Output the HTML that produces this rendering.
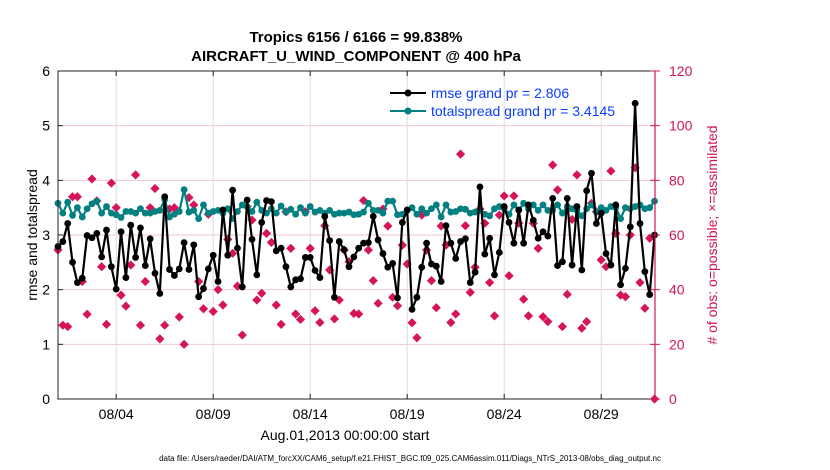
<!DOCTYPE html>
<html><head><meta charset="utf-8">
<style>
body{margin:0;background:#fff;}
svg{display:block;font-family:"Liberation Sans",Arial,sans-serif;}
</style></head>
<body>
<svg id="chart" width="830" height="470" viewBox="0 0 830 470" xmlns="http://www.w3.org/2000/svg">
<rect x="0" y="0" width="830" height="470" fill="#fff"/>
<text x="356" y="42" text-anchor="middle" font-size="15" font-weight="bold">Tropics 6156 / 6166 = 99.838%</text>
<text x="356" y="61" text-anchor="middle" font-size="15" font-weight="bold">AIRCRAFT_U_WIND_COMPONENT @ 400 hPa</text>
<g id="grid"></g>
<g id="marks"></g>
<rect x="58" y="71" width="597" height="328" fill="none" stroke="#222" stroke-width="1"/>
<line x1="655" y1="71" x2="655" y2="399" stroke="#d0145a" stroke-width="1.2"/>
<g id="axes"></g>
<text transform="translate(37,235) rotate(-90)" text-anchor="middle" font-size="14">rmse and totalspread</text>
<text transform="translate(717,235) rotate(-90)" text-anchor="middle" font-size="14" fill="#d0145a"># of obs: o=possible; ×=assimilated</text>
<text x="345" y="440" text-anchor="middle" font-size="14">Aug.01,2013 00:00:00 start</text>
<text x="410" y="461" text-anchor="middle" font-size="8">data file: /Users/raeder/DAI/ATM_forcXX/CAM6_setup/f.e21.FHIST_BGC.f09_025.CAM6assim.011/Diags_NTrS_2013-08/obs_diag_output.nc</text>
<g>
  <g>
    <line x1="390" y1="93" x2="426" y2="93" stroke="#000" stroke-width="2"/>
    <circle cx="408" cy="93" r="3.5" fill="#000"/>
    <text x="431" y="98" font-size="14" fill="#0a3cff">rmse grand pr = 2.806</text>
  </g>
  <g>
    <line x1="390" y1="111" x2="426" y2="111" stroke="#008080" stroke-width="2"/>
    <circle cx="408" cy="111" r="3.5" fill="#008080"/>
    <text x="431" y="116" font-size="14" fill="#0a3cff">totalspread grand pr = 3.4145</text>
  </g>
</g>
</svg>
<script>
const rmse = [2.79,2.88,3.21,2.50,2.13,2.21,2.99,2.95,3.03,2.60,3.09,2.42,2.01,3.06,2.22,3.18,2.59,3.13,2.44,2.93,2.30,1.93,3.70,2.37,2.26,2.38,2.86,2.37,2.82,1.87,2.02,2.38,2.63,
2.15,3.46,2.63,3.82,2.76,2.05,3.64,2.92,2.27,3.23,3.63,3.61,2.71,2.76,2.42,2.05,2.18,2.20,2.59,2.59,2.35,2.22,3.34,2.90,1.86,2.88,2.73,2.42,2.60,2.76,2.85,
2.86,3.34,2.91,2.66,2.41,2.48,1.85,3.23,3.46,1.64,1.86,2.41,2.85,2.47,2.43,2.15,3.17,2.85,2.57,2.88,2.93,2.13,2.32,3.88,2.65,2.94,2.27,2.68,3.52,3.23,2.85,
3.46,2.85,3.55,3.27,2.94,3.06,2.98,3.67,2.44,2.51,3.67,2.45,3.52,2.36,3.81,4.13,3.21,3.40,2.66,2.45,3.55,2.09,2.39,3.15,5.41,3.21,2.33,1.91,3.00];
const spread = [3.58,3.40,3.60,3.36,3.50,3.33,3.48,3.57,3.62,3.40,3.52,3.40,3.37,3.32,3.43,3.43,3.40,3.48,3.40,3.40,3.43,3.45,3.65,3.33,3.38,3.43,3.83,3.42,3.45,3.30,3.55,3.40,3.43,
3.45,3.40,3.48,3.30,3.43,3.55,3.52,3.43,3.60,3.45,3.40,3.48,3.40,3.53,3.42,3.47,3.38,3.50,3.40,3.52,3.42,3.45,3.40,3.45,3.38,3.40,3.40,3.42,3.37,3.38,3.42,
3.58,3.45,3.45,3.40,3.62,3.62,3.37,3.38,3.45,3.50,3.38,3.48,3.40,3.48,3.55,3.33,3.55,3.42,3.43,3.48,3.47,3.40,3.42,3.45,3.38,3.35,3.48,3.52,3.48,3.38,3.55,
3.45,3.58,3.48,3.55,3.45,3.55,3.45,3.45,3.55,3.40,3.52,3.48,3.45,3.35,3.48,3.55,3.42,3.50,3.45,3.52,3.50,3.30,3.50,3.48,3.52,3.55,3.48,3.50,3.62];
const nobs = [54.5,27,26.5,74,74,43,31,80.5,72.5,48.4,27.3,79,70,38,34,49,82,27,43,70,77,22,27,69.5,70,30,20,73.7,71,43,33,67.6,32,
40,34.4,58.4,53.3,41.3,23.4,70.4,65.5,36.2,38.7,60.6,57.3,34.4,27.3,68.5,55.1,31.1,29.1,68.5,55.1,32.3,28,63.4,47.2,29.3,36.2,54.5,50.2,31.3,31.1,72.6,
54.5,43.3,35,69.5,63.3,37.2,34.1,56.3,49.4,27.9,22.4,67.3,54.5,43.3,33.4,63.3,56.3,28,31.1,89.6,63.4,39,48.2,69.5,64.3,42.6,30.4,67.3,74.3,45.1,74.3,
64.3,36.5,30.4,64.3,55.1,30.1,28.3,85.6,76.5,26.5,38.3,65.7,82,25.9,28.3,71.6,68.5,50.9,48.4,83.4,60.6,38,37.4,60,84.6,42.6,33.2,58.8,0];
const leftTicks = [0,1,2,3,4,5,6];
const rightTicks = [0,20,40,60,80,100,120];
const xTickDays = [3,8,13,18,23,28];
const xTickLabels = ["08/04","08/09","08/14","08/19","08/24","08/29"];
const stepDays = 0.25;

const NS="http://www.w3.org/2000/svg";
const X0=58,X1=655,Y0=399,Y1=71;
const xs = d => X0 + d*19.4;
const yl = v => Y0 - v/6*(Y0-Y1);
const yr = v => Y0 - v/120*(Y0-Y1);
function mk(tag, attrs, parent){const e=document.createElementNS(NS,tag);for(const k in attrs)e.setAttribute(k,attrs[k]);parent.appendChild(e);return e;}
const grid=document.getElementById('grid'), marks=document.getElementById('marks'), axes=document.getElementById('axes');

leftTicks.forEach((t,i)=>{
  const y=yl(t);
  if(t>0&&t<6){const g=mk('line',{x1:X0,x2:X1,y1:y,y2:y,stroke:'#f2c6d6','stroke-width':1},grid);
  
  }
  const tk=mk('line',{x1:X0,x2:X0+5,y1:y,y2:y,stroke:'#222'},axes);
  
  
  const tx=mk('text',{x:X0-8,y:y+5,'text-anchor':'end','font-size':14},axes);tx.textContent=t;
  
  
});
rightTicks.forEach(t=>{
  const y=yr(t);
  const tk=mk('line',{x1:X1-5,x2:X1+5,y1:y,y2:y,stroke:'#d0145a'},axes);
  
  
  const tx=mk('text',{x:X1+14,y:y+5,'font-size':14,fill:'#d0145a'},axes);tx.textContent=t;
  
  
});
xTickDays.forEach((d,i)=>{
  const x=xs(d);
  const g=mk('line',{x1:x,x2:x,y1:Y1,y2:Y0,stroke:'#dcdcdc'},grid);
  
  
  const tk=mk('line',{x1:x,x2:x,y1:Y0-5,y2:Y0,stroke:'#222'},axes);
  
  
  const tk2=mk('line',{x1:x,x2:x,y1:Y1,y2:Y1+5,stroke:'#222'},axes);
  
  
  const tx=mk('text',{x:x,y:419,'text-anchor':'middle','font-size':14},axes);tx.textContent=xTickLabels[i];
  
  
});

// obs counts diamonds
nobs.forEach((v,i)=>{
  const x=xs(i*stepDays), y=yr(v), s=4.6;
  const p=mk('polygon',{points:`${x},${y-s} ${x+s},${y} ${x},${y+s} ${x-s},${y}`,fill:'#d6145a'},marks);
  
  
});
function series(arr,color,name){
  const pts=arr.map((v,i)=>xs(i*stepDays).toFixed(1)+','+yl(v).toFixed(1)).join(' ');
  const l=mk('polyline',{points:pts,fill:'none',stroke:color,'stroke-width':2.2,'stroke-linejoin':'round'},marks);
  
  
  arr.forEach((v,i)=>{
    const c=mk('circle',{cx:xs(i*stepDays),cy:yl(v),r:3.4,fill:color},marks);
    
    
  });
}
series(spread,'#008080','totalspread');
series(rmse,'#000000','rmse');
</script>
</body></html>
